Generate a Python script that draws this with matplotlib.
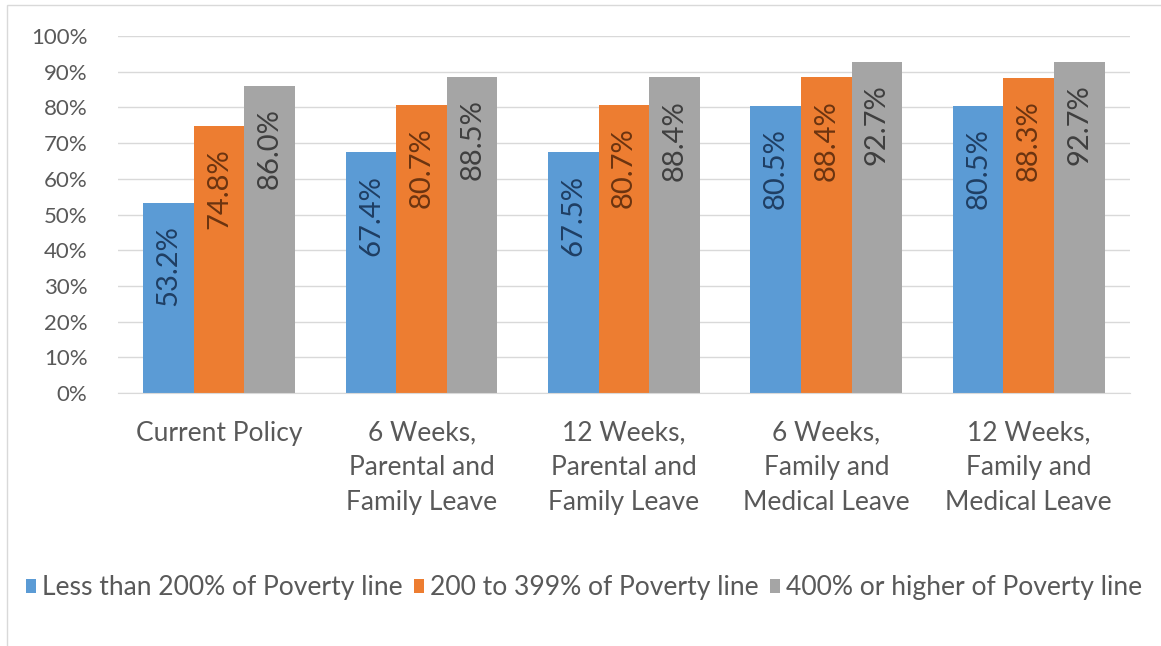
import matplotlib.pyplot as plt
import numpy as np

plt.rcParams['font.family'] = ['Lato', 'DejaVu Sans']

# data
categories = ['Current Policy',
              '6 Weeks,\nParental and\nFamily Leave',
              '12 Weeks,\nParental and\nFamily Leave',
              '6 Weeks,\nFamily and\nMedical Leave',
              '12 Weeks,\nFamily and\nMedical Leave']
series_names = ['Less than 200% of Poverty line',
                '200 to 399% of Poverty line',
                '400% or higher of Poverty line']
low_income = [53.2, 67.4, 67.5, 80.5, 80.5]
mid_income = [74.8, 80.7, 80.7, 88.4, 88.3]
high_income = [86.0, 88.5, 88.4, 92.7, 92.7]

colors = ['#5B9BD5', '#ED7D31', '#A5A5A5']
label_colors = ['#1F3E63', '#6B3410', '#3F3F3F']

fig = plt.figure(figsize=(11.61, 6.46), dpi=100)
ax = fig.add_axes([0.1016, 0.3916, 0.8717, 0.5527])

x = np.arange(len(categories))
w = 0.25
all_series = [low_income, mid_income, high_income]
for i, vals in enumerate(all_series):
    pos = x + (i - 1) * w
    ax.bar(pos, vals, width=w, color=colors[i], label=series_names[i], zorder=2)
    for p, v in zip(pos, vals):
        ax.text(p, v - 6.3, '%.1f%%' % v, rotation=90, ha='center', va='top',
                fontsize=21, color=label_colors[i], zorder=3)

ax.set_xlim(-0.5, 4.5)
ax.set_ylim(0, 100)
ax.set_yticks(range(0, 101, 10))
ax.set_yticklabels(['%d%%' % t for t in range(0, 101, 10)])
ax.yaxis.grid(True, color='#D9D9D9', linewidth=1, zorder=0)
ax.set_axisbelow(True)
for s in ['top', 'right', 'left']:
    ax.spines[s].set_visible(False)
ax.spines['bottom'].set_color('#D9D9D9')
ax.tick_params(axis='both', length=0, colors='#595959')
ax.tick_params(axis='y', pad=22, labelsize=16)
ax.tick_params(axis='x', pad=20, labelsize=19)
ax.set_xticks(x)
ax.set_xticklabels(categories, linespacing=1.47)

fig.legend(loc='center', bbox_to_anchor=(0.503, 0.09), ncol=3, frameon=False,
           fontsize=19.1, handlelength=0.38, handleheight=0.45, handletextpad=0.2,
           columnspacing=0.45, labelcolor='#595959')

# outer chart border
fig.add_artist(plt.Rectangle((0.006, -0.01), 1.0, 1.002, transform=fig.transFigure,
                             fill=False, edgecolor='#D9D9D9', linewidth=1))

fig.savefig('out.png', dpi=100)
